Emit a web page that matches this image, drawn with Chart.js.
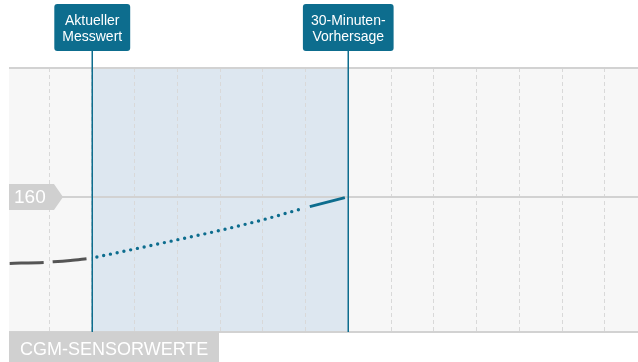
<!DOCTYPE html>
<html>
<head>
<meta charset="utf-8">
<script src="https://cdn.jsdelivr.net/npm/chart.js@4/dist/chart.umd.min.js"></script>
<style>
  html, body { margin: 0; padding: 0; background: #fff; }
  canvas { display: block; }
</style>
</head>
<body>
<canvas id="cgm-chart" width="638" height="362"></canvas>
<script>
// minutes relative to the current reading, glucose in mg/dL
const pastMinutes = [-9.6, -5.6, -4.5, -2.5, -0.5];
const pastValues = [126.8, 127.3, 127.6, 128.3, 129.2];

const forecastDotMinutes = [0.6, 5, 10, 15, 20, 24.3];
const forecastDotValues = [130, 134, 138.6, 143.3, 148.6, 153.8];

const forecastEndMinutes = [25.5, 29.6];
const forecastEndValues = [155.2, 159.7];

const markerMinutes = [0, 30];
const markerLabels = [["Aktueller", "Messwert"], ["30-Minuten-", "Vorhersage"]];

const referenceValue = 160;
const yLimits = [92.5, 224.5];
const xLimits = [-9.68, 63.88];
const gridStep = 5;

const TEAL = "#0d6d8e";
const LABEL_GRAY = "#d0d0d0";
const FONT = "'Liberation Sans', Arial, sans-serif";

function toPoints(xs, ys) {
    return xs.map((x, i) => ({ x: x, y: ys[i] }));
}

// backgrounds: light panel plus shaded forecast window
const backgroundPlugin = {
    id: "backgrounds",
    beforeDraw(chart) {
        const { ctx, chartArea, scales } = chart;
        ctx.save();
        ctx.fillStyle = "#f7f7f7";
        ctx.fillRect(chartArea.left, chartArea.top, chartArea.right - chartArea.left, chartArea.bottom - chartArea.top);
        const x0 = scales.x.getPixelForValue(markerMinutes[0]);
        const x1 = scales.x.getPixelForValue(markerMinutes[1]);
        ctx.fillStyle = "#dde7f0";
        ctx.fillRect(x0, chartArea.top, x1 - x0, chartArea.bottom - chartArea.top);
        ctx.restore();
    }
};

// markers, value tag and the bottom caption
const overlayPlugin = {
    id: "overlays",
    afterDraw(chart) {
        const { ctx, chartArea, scales } = chart;
        ctx.save();

        markerMinutes.forEach((m, i) => {
            const x = Math.round(scales.x.getPixelForValue(m)) + 0.25;
            ctx.strokeStyle = TEAL;
            ctx.lineWidth = 1.5;
            ctx.beginPath();
            ctx.moveTo(x, 50);
            ctx.lineTo(x, chartArea.bottom);
            ctx.stroke();

            ctx.font = "14px " + FONT;
            const lines = markerLabels[i];
            const w = Math.max(...lines.map(l => ctx.measureText(l).width)) + 16;
            ctx.fillStyle = TEAL;
            ctx.beginPath();
            ctx.roundRect(x - w / 2, 4, w, 47, 3);
            ctx.fill();
            ctx.fillStyle = "#ffffff";
            ctx.textAlign = "center";
            ctx.textBaseline = "alphabetic";
            ctx.fillText(lines[0], x, 25);
            ctx.fillText(lines[1], x, 41);
        });

        // value tag on the 160 line
        const y = scales.y.getPixelForValue(referenceValue);
        const left = chartArea.left;
        ctx.fillStyle = LABEL_GRAY;
        ctx.beginPath();
        ctx.moveTo(left, y - 13);
        ctx.lineTo(left + 45, y - 13);
        ctx.lineTo(left + 54, y);
        ctx.lineTo(left + 45, y + 13);
        ctx.lineTo(left, y + 13);
        ctx.closePath();
        ctx.fill();
        ctx.fillStyle = "#ffffff";
        ctx.font = "19px " + FONT;
        ctx.textAlign = "left";
        ctx.textBaseline = "middle";
        ctx.fillText(String(referenceValue), left + 5, y + 1);

        // caption below the panel
        ctx.fillStyle = LABEL_GRAY;
        ctx.fillRect(left, chartArea.bottom, 210, 362 - chartArea.bottom);
        ctx.fillStyle = "#ffffff";
        ctx.font = "18px " + FONT;
        ctx.textBaseline = "alphabetic";
        ctx.fillText("CGM-SENSORWERTE", left + 11, chartArea.bottom + 23);

        ctx.restore();
    }
};

const ctx = document.getElementById("cgm-chart").getContext("2d");
new Chart(ctx, {
    type: "line",
    data: {
        datasets: [
            {
                data: toPoints(pastMinutes, pastValues),
                borderColor: "#555555",
                borderWidth: 3,
                borderDash: [34, 9],
                cubicInterpolationMode: "monotone",
                pointRadius: 0
            },
            {
                data: toPoints(forecastDotMinutes, forecastDotValues),
                borderColor: TEAL,
                borderWidth: 3.4,
                borderDash: [0, 6.9],
                borderCapStyle: "round",
                cubicInterpolationMode: "monotone",
                pointRadius: 0
            },
            {
                data: toPoints(forecastEndMinutes, forecastEndValues),
                borderColor: TEAL,
                borderWidth: 3,
                pointRadius: 0
            }
        ]
    },
    options: {
        responsive: false,
        animation: false,
        events: [],
        layout: { padding: { left: 9, right: 0, top: 68, bottom: 30 } },
        plugins: {
            legend: { display: false },
            tooltip: { enabled: false }
        },
        scales: {
            x: {
                type: "linear",
                min: xLimits[0],
                max: xLimits[1],
                afterBuildTicks(scale) {
                    const ticks = [];
                    for (let v = Math.ceil(xLimits[0] / gridStep) * gridStep; v < xLimits[1]; v += gridStep) {
                        ticks.push({ value: v });
                    }
                    scale.ticks = ticks;
                },
                ticks: { display: false },
                grid: { color: "#d9d9d9", lineWidth: 1, drawTicks: false },
                border: { display: false, dash: [4, 3] }
            },
            y: {
                type: "linear",
                min: yLimits[0],
                max: yLimits[1],
                afterBuildTicks(scale) {
                    scale.ticks = [{ value: yLimits[0] }, { value: referenceValue }, { value: yLimits[1] }];
                },
                ticks: { display: false },
                grid: { color: "#d2d2d2", lineWidth: 2, drawTicks: false },
                border: { display: false }
            }
        }
    },
    plugins: [backgroundPlugin, overlayPlugin]
});
</script>
</body>
</html>
